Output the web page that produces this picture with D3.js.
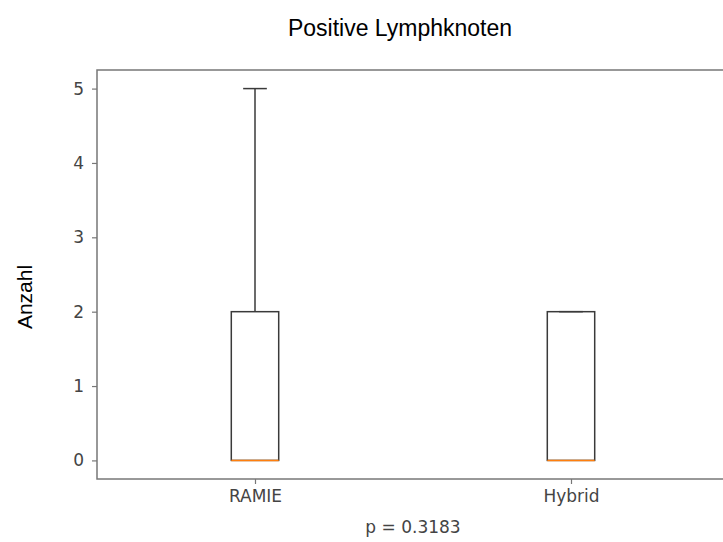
<!DOCTYPE html>
<html>
<head>
<meta charset="utf-8">
<script src="https://cdn.jsdelivr.net/npm/d3@7"></script>
<style>
  body { margin: 0; background: #fff; }
</style>
</head>
<body>
<div id="chart"></div>
<script>
// box plot summary per group
const groups = ['RAMIE', 'Hybrid'];
const q1 = [0, 0];
const medians = [0, 0];
const q3 = [2, 2];
const whiskerLow = [0, 0];
const whiskerHigh = [5, 2];
const yTicks = [0, 1, 2, 3, 4, 5];

const svgWidth = 723;
const svgHeight = 542;
const margin = { left: 97, top: 70, right: -6, bottom: 63 };
const plotRight = svgWidth - margin.right;
const plotBottom = svgHeight - margin.bottom;

const svg = d3.select('#chart')
    .append('svg')
    .attr('width', svgWidth)
    .attr('height', svgHeight);

const xScale = d3.scaleLinear()
    .domain([0.5, 2.5])
    .range([margin.left, plotRight]);

const yScale = d3.scaleLinear()
    .domain([-0.25, 5.25])
    .range([plotBottom, margin.top]);

const boxW = 0.15;
const capW = 0.075;
const lineColor = '#3a3a3a';

// frame
svg.append('rect')
    .attr('x', margin.left)
    .attr('y', margin.top)
    .attr('width', plotRight - margin.left)
    .attr('height', plotBottom - margin.top)
    .attr('fill', 'none')
    .attr('stroke', '#777')
    .attr('stroke-width', 1.5);

// axes
const yAxis = svg.append('g')
    .attr('transform', `translate(${margin.left},0)`)
    .call(d3.axisLeft(yScale).tickValues(yTicks).tickFormat(d3.format('d')).tickSize(5).tickPadding(8));

const xAxis = svg.append('g')
    .attr('transform', `translate(0,${plotBottom})`)
    .call(d3.axisBottom(xScale).tickValues([1, 2]).tickFormat((d, i) => groups[i]).tickSize(5).tickPadding(6));

[yAxis, xAxis].forEach(ax => {
    ax.select('.domain').remove();
    ax.selectAll('line').attr('stroke', '#777').attr('stroke-width', 1.2);
    ax.selectAll('text')
        .attr('fill', '#444')
        .style('font-family', 'DejaVu Sans')
        .style('font-size', '17px');
});

// boxes
groups.forEach((g, i) => {
    const c = i + 1;
    const grp = svg.append('g');

    // whiskers
    grp.append('line')
        .attr('x1', xScale(c)).attr('x2', xScale(c))
        .attr('y1', yScale(q3[i])).attr('y2', yScale(whiskerHigh[i]))
        .attr('stroke', lineColor).attr('stroke-width', 1.5);
    grp.append('line')
        .attr('x1', xScale(c - capW / 2)).attr('x2', xScale(c + capW / 2))
        .attr('y1', yScale(whiskerHigh[i])).attr('y2', yScale(whiskerHigh[i]))
        .attr('stroke', lineColor).attr('stroke-width', 1.5);
    grp.append('line')
        .attr('x1', xScale(c)).attr('x2', xScale(c))
        .attr('y1', yScale(q1[i])).attr('y2', yScale(whiskerLow[i]))
        .attr('stroke', lineColor).attr('stroke-width', 1.5);

    grp.append('rect')
        .attr('x', xScale(c - boxW / 2))
        .attr('y', yScale(q3[i]))
        .attr('width', xScale(c + boxW / 2) - xScale(c - boxW / 2))
        .attr('height', yScale(q1[i]) - yScale(q3[i]))
        .attr('fill', 'none')
        .attr('stroke', lineColor)
        .attr('stroke-width', 1.5);

    grp.append('line')
        .attr('x1', xScale(c - boxW / 2)).attr('x2', xScale(c + boxW / 2))
        .attr('y1', yScale(medians[i])).attr('y2', yScale(medians[i]))
        .attr('stroke', '#ff7f0e').attr('stroke-width', 1.5);
});

// labels
svg.append('text')
    .attr('x', 400)
    .attr('y', 36)
    .attr('text-anchor', 'middle')
    .style('font-family', 'Liberation Sans, Arial')
    .style('font-size', '23px')
    .text('Positive Lymphknoten');

svg.append('text')
    .attr('transform', 'translate(32,297) rotate(-90)')
    .attr('text-anchor', 'middle')
    .style('font-family', 'Liberation Sans, Arial')
    .style('font-size', '21px')
    .text('Anzahl');

svg.append('text')
    .attr('x', (margin.left + plotRight) / 2)
    .attr('y', 533)
    .attr('text-anchor', 'middle')
    .attr('fill', '#444')
    .style('font-family', 'DejaVu Sans')
    .style('font-size', '17px')
    .text('p = 0.3183');
</script>
</body>
</html>
